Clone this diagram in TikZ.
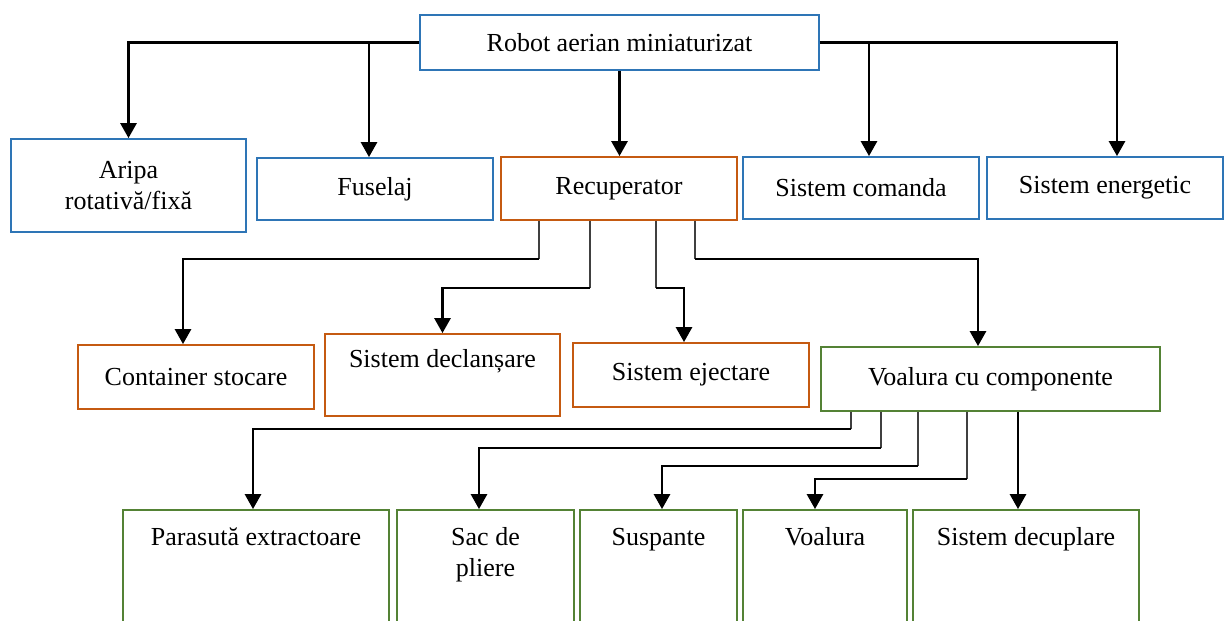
\documentclass[tikz,border=0pt]{standalone}
\usepackage{fontspec}
\setmainfont{Liberation Serif}
\usetikzlibrary{arrows.meta}
\definecolor{boxblue}{HTML}{2E75B6}
\definecolor{boxorange}{HTML}{C55A11}
\definecolor{boxgreen}{HTML}{548235}

\begin{document}
\begin{tikzpicture}[x=1pt,y=-1pt,
  txt/.style={font=\rmfamily\fontsize{26}{31}\selectfont, align=center},
  box/.style={draw, line width=1.8pt, fill=white, inner sep=0pt, txt},
  bluebox/.style={box, draw=boxblue},
  orangebox/.style={box, draw=boxorange},
  greenbox/.style={box, draw=boxgreen},
  lbl/.style={txt, inner sep=0pt, anchor=base},
  link/.style={line width=2.8pt, -{Triangle[width=16pt,length=15pt]}},
  stub/.style={line width=1.1pt, draw=black!75},
]
\useasboundingbox (0,0) rectangle (1224,621);
\clip (0,0) rectangle (1224,621);

% top level
\node[bluebox, minimum width=399pt, minimum height=55pt] (root) at (619.5,42.5) {Robot aerian miniaturizat};

\node[bluebox, minimum width=235pt, minimum height=93pt] (aripa) at (128.5,185.5) {Aripa\\rotativă/fixă};
\node[bluebox, minimum width=236pt, minimum height=62pt] (fuselaj) at (375,189) {Fuselaj};
\node[orangebox, minimum width=236pt, minimum height=63pt] (recup) at (619,188.5) {Recuperator};
\node[bluebox, minimum width=236pt, minimum height=62pt] (comanda) at (861,188) {Sistem comanda};
\node[bluebox, minimum width=236pt, minimum height=62pt] (energetic) at (1105,188) {Sistem energetic};

% recuperator parts
\node[orangebox, minimum width=236pt, minimum height=64pt] (container) at (196,377) {Container stocare};
\node[orangebox, minimum width=235pt, minimum height=82pt,
      label={[lbl, yshift=-34pt]north:Sistem declanșare}] (declans) at (442.5,375) {};
\node[orangebox, minimum width=236pt, minimum height=64pt] (ejectare) at (691,375) {Sistem ejectare};
\node[greenbox, minimum width=339pt, minimum height=64pt] (voalura) at (990.5,379) {Voalura cu componente};

% canopy parts
\node[greenbox, minimum width=266pt, minimum height=130pt,
      label={[lbl, yshift=-36pt]north:Parasută extractoare}] (parasuta) at (256,575) {};
\node[greenbox, minimum width=177pt, minimum height=130pt,
      label={[lbl, yshift=-67pt]north:Sac de\\pliere}] (sac) at (485.5,575) {};
\node[greenbox, minimum width=157pt, minimum height=130pt,
      label={[lbl, yshift=-36pt]north:Suspante}] (suspante) at (658.5,575) {};
\node[greenbox, minimum width=164pt, minimum height=130pt,
      label={[lbl, yshift=-36pt]north:Voalura}] (voal) at (825,575) {};
\node[greenbox, minimum width=226pt, minimum height=130pt,
      label={[lbl, yshift=-36pt]north:Sistem decuplare}] (decuplare) at (1026,575) {};

% connectors from the root
\draw[link] (root.west) -| (aripa.north);
\draw[link] (root.west) -| ([xshift=-6pt]fuselaj.north);
\draw[link] (root.south) -- (root.south |- recup.north);
\draw[link] (root.east) -| ([xshift=8pt]comanda.north);
\draw[link] (root.east) -| ([xshift=12pt]energetic.north);

% connectors from the recuperator
\draw[stub] ([xshift=-80pt]recup.south) -- ++(0,38) coordinate (r1);
\draw[stub] ([xshift=-29pt]recup.south) -- ++(0,67) coordinate (r2);
\draw[stub] ([xshift=37pt]recup.south) -- ++(0,67) coordinate (r3);
\draw[stub] ([xshift=76pt]recup.south) -- ++(0,38) coordinate (r4);
\draw[link] (r1) -| ([xshift=-13pt]container.north);
\draw[link] (r2) -| (declans.north);
\draw[link] (r3) -| ([xshift=-7pt]ejectare.north);
\draw[link] (r4) -| ([xshift=-12.5pt]voalura.north);

% connectors from the canopy assembly
\draw[stub] ([xshift=-139.5pt]voalura.south) -- ++(0,17) coordinate (v1);
\draw[stub] ([xshift=-109.5pt]voalura.south) -- ++(0,36) coordinate (v2);
\draw[stub] ([xshift=-72.5pt]voalura.south) -- ++(0,54) coordinate (v3);
\draw[stub] ([xshift=-23.5pt]voalura.south) -- ++(0,67) coordinate (v4);
\draw[link] (v1) -| ([xshift=-3pt]parasuta.north);
\draw[link] (v2) -| ([xshift=-6.5pt]sac.north);
\draw[link] (v3) -| ([xshift=3.5pt]suspante.north);
\draw[link] (v4) -| ([xshift=-10pt]voal.north);
\draw[link] ([xshift=27.5pt]voalura.south) -- ([xshift=27.5pt]voalura.south |- decuplare.north);
\end{tikzpicture}
\end{document}
